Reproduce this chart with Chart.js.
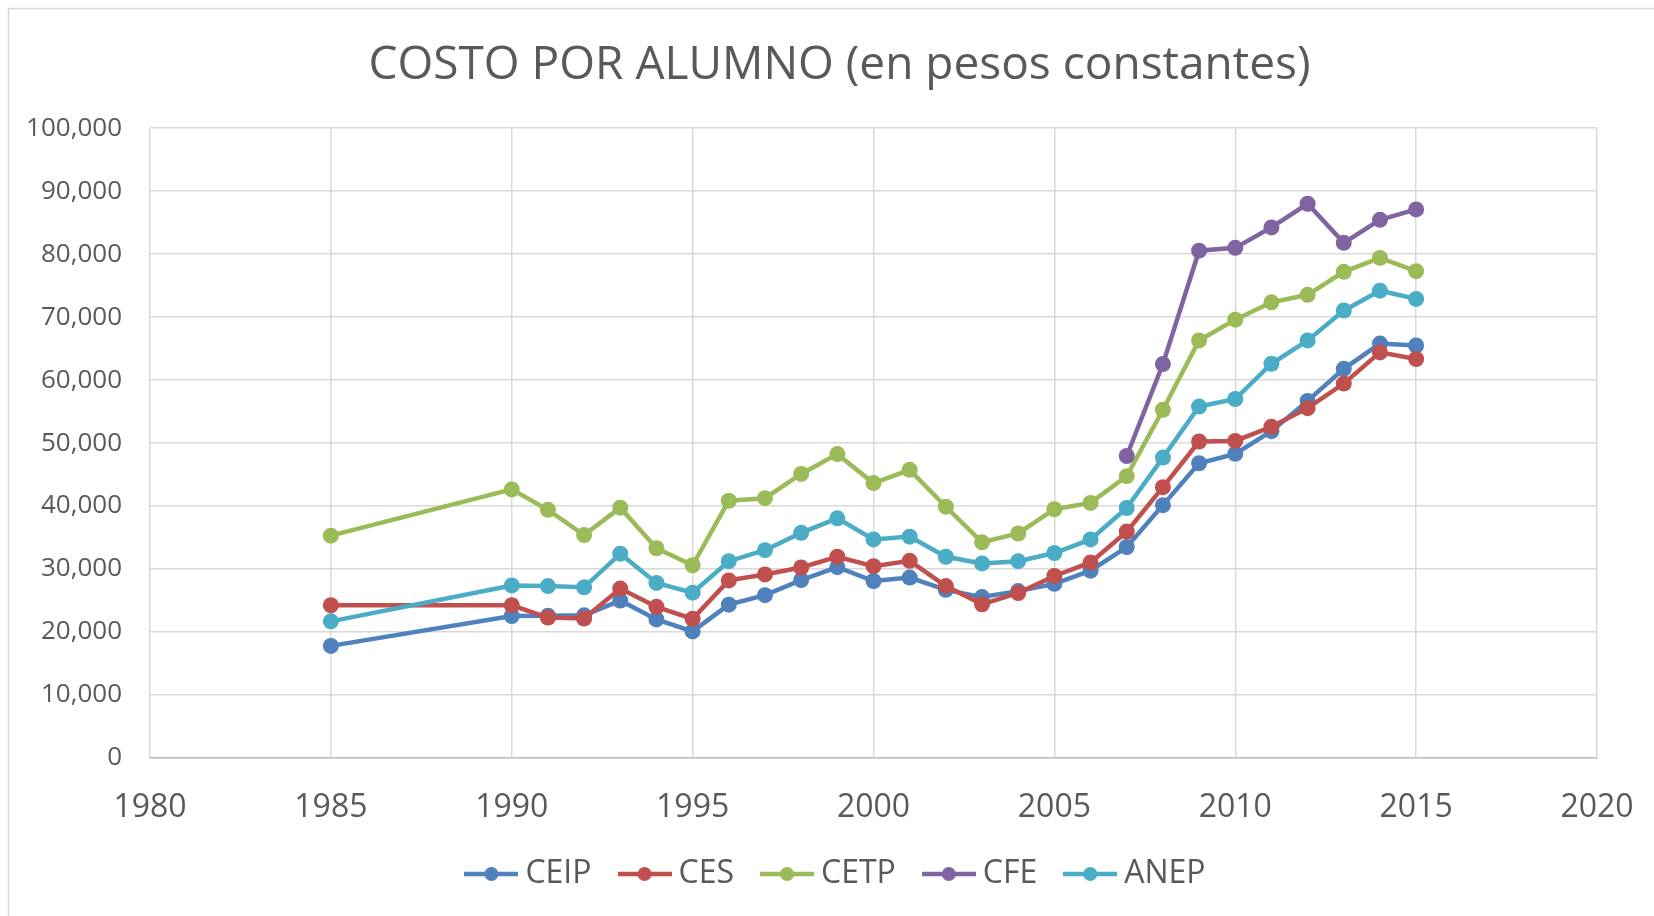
<!DOCTYPE html>
<html>
<head>
<meta charset="utf-8">
<script src="https://cdn.jsdelivr.net/npm/chart.js@4.4.1/dist/chart.umd.min.js"></script>
<style>
  html, body { margin: 0; padding: 0; background: #fff; }
  #wrap { position: relative; width: 1654px; height: 916px; }
</style>
</head>
<body>
<div id="wrap"><canvas id="chart"></canvas></div>
<script>
// data
const years = [1985, 1990, 1991, 1992, 1993, 1994, 1995, 1996, 1997, 1998, 1999, 2000, 2001, 2002,
  2003, 2004, 2005, 2006, 2007, 2008, 2009, 2010, 2011, 2012, 2013, 2014, 2015];
const cfeYears = [2007, 2008, 2009, 2010, 2011, 2012, 2013, 2014, 2015];

const ceip = [17800, 22550, 22600, 22650, 25000, 22000, 20100, 24350, 25850, 28250, 30300, 28100, 28650, 26700,
  25550, 26500, 27650, 29750, 33500, 40150, 46800, 48300, 51900, 56700, 61800, 65800, 65500];
const ces = [24250, 24250, 22300, 22150, 26900, 24000, 22100, 28200, 29150, 30250, 31950, 30450, 31300, 27300,
  24400, 26200, 28900, 31050, 35950, 43000, 50250, 50350, 52600, 55550, 59450, 64400, 63350];
const cetp = [35300, 42650, 39400, 35400, 39750, 33300, 30600, 40850, 41250, 45100, 48250, 43650, 45750, 39900,
  34250, 35650, 39500, 40500, 44750, 55300, 66300, 69600, 72350, 73550, 77200, 79400, 77300];
const cfe = [47950, 62550, 80550, 81000, 84250, 88000, 81800, 85450, 87100];
const anep = [21700, 27400, 27300, 27100, 32450, 27800, 26250, 31250, 33000, 35750, 38050, 34700, 35150, 31950,
  30900, 31250, 32550, 34700, 39700, 47700, 55800, 57000, 62600, 66300, 71050, 74200, 72900];

const seriesNames = ["CEIP", "CES", "CETP", "CFE", "ANEP"];
const xTicks = [1980, 1985, 1990, 1995, 2000, 2005, 2010, 2015, 2020];
const yMax = 100000;
const yStep = 10000;

const colors = ["#4F81BD", "#C0504D", "#9BBB59", "#8064A2", "#4BACC6"];
const textColor = "#595959";

function toPoints(xs, ys) {
  return xs.map((x, i) => ({ x: x, y: ys[i] }));
}

// little line + dot swatch for the legend, like Excel
function swatch(color) {
  const c = document.createElement("canvas");
  c.width = 54;
  c.height = 18;
  const g = c.getContext("2d");
  g.strokeStyle = color;
  g.lineWidth = 4.5;
  g.beginPath();
  g.moveTo(0, 9);
  g.lineTo(54, 9);
  g.stroke();
  g.fillStyle = color;
  g.beginPath();
  g.arc(27, 9, 7, 0, Math.PI * 2);
  g.fill();
  return c;
}

const seriesData = [
  toPoints(years, ceip),
  toPoints(years, ces),
  toPoints(years, cetp),
  toPoints(cfeYears, cfe),
  toPoints(years, anep),
];

const datasets = seriesNames.map((name, i) => ({
  label: name,
  data: seriesData[i],
  borderColor: colors[i],
  backgroundColor: colors[i],
  borderWidth: 4.5,
  pointRadius: 8,
  pointHoverRadius: 8,
  pointBorderWidth: 0,
  pointBackgroundColor: colors[i],
  tension: 0,
  fill: false,
  order: seriesNames.length - 1 - i, // later series on top, as in Excel
}));

// light frame around the whole chart (cut at right/bottom in the reference)
const framePlugin = {
  id: "frame",
  afterLayout(chart) {
    // y labels stick out left of the (narrow) axis box; widen its label clip
    chart.scales.y.left = 0;
  },
  beforeDraw(chart) {
    const ctx = chart.ctx;
    ctx.save();
    ctx.fillStyle = "#fff";
    ctx.fillRect(0, 0, chart.width, chart.height);
    ctx.strokeStyle = "#D9D9D9";
    ctx.lineWidth = 1.5;
    ctx.strokeRect(8.5, 8.5, chart.width + 20, chart.height + 20);
    ctx.restore();
  },
};

Chart.defaults.font.family = "'Open Sans', sans-serif";
Chart.defaults.color = textColor;

new Chart(document.getElementById("chart"), {
  type: "line",
  data: { datasets },
  plugins: [framePlugin],
  options: {
    responsive: true,
    maintainAspectRatio: false,
    animation: false,
    layout: { padding: { top: 10, left: 82, right: 57, bottom: 16 } },
    plugins: {
      title: {
        display: true,
        text: "COSTO POR ALUMNO (en pesos constantes)",
        color: textColor,
        font: { size: 46, weight: "normal" },
        padding: { top: 28, bottom: 35 },
      },
      legend: {
        position: "bottom",
        labels: {
          color: textColor,
          font: { size: 32 },
          usePointStyle: true,
          pointStyleWidth: 36,
          padding: 35,
          sort: (a, b) => a.datasetIndex - b.datasetIndex,
          generateLabels(chart) {
            const items = Chart.defaults.plugins.legend.labels.generateLabels(chart);
            return items.map((it) => {
              it.pointStyle = swatch(colors[it.datasetIndex]);
              return it;
            });
          },
        },
      },
      tooltip: { enabled: false },
    },
    scales: {
      x: {
        type: "linear",
        min: xTicks[0],
        max: xTicks[xTicks.length - 1],
        afterBuildTicks: (scale) => {
          scale.ticks = xTicks.map((v) => ({ value: v }));
        },
        afterFit: (scale) => {
          scale.height = 65;
          scale.paddingLeft = 0;
          scale.paddingRight = 0;
        },
        ticks: {
          color: textColor,
          font: { size: 32 },
          padding: 31,
          maxRotation: 0,
          callback: (v) => String(v),
        },
        grid: { color: "#D9D9D9", lineWidth: 1.5, drawTicks: false },
        border: { color: "#BFBFBF", width: 1.5 },
      },
      y: {
        min: 0,
        max: yMax,
        afterFit: (scale) => {
          scale.width = 68;
          scale.paddingTop = 0;
          scale.paddingBottom = 0;
        },
        ticks: {
          stepSize: yStep,
          color: textColor,
          font: { size: 26 },
          padding: 28,
          callback: (v) => v.toLocaleString("en-US"),
        },
        grid: { color: "#D9D9D9", lineWidth: 1.5, drawTicks: false },
        border: { display: false },
      },
    },
  },
});
</script>
</body>
</html>
